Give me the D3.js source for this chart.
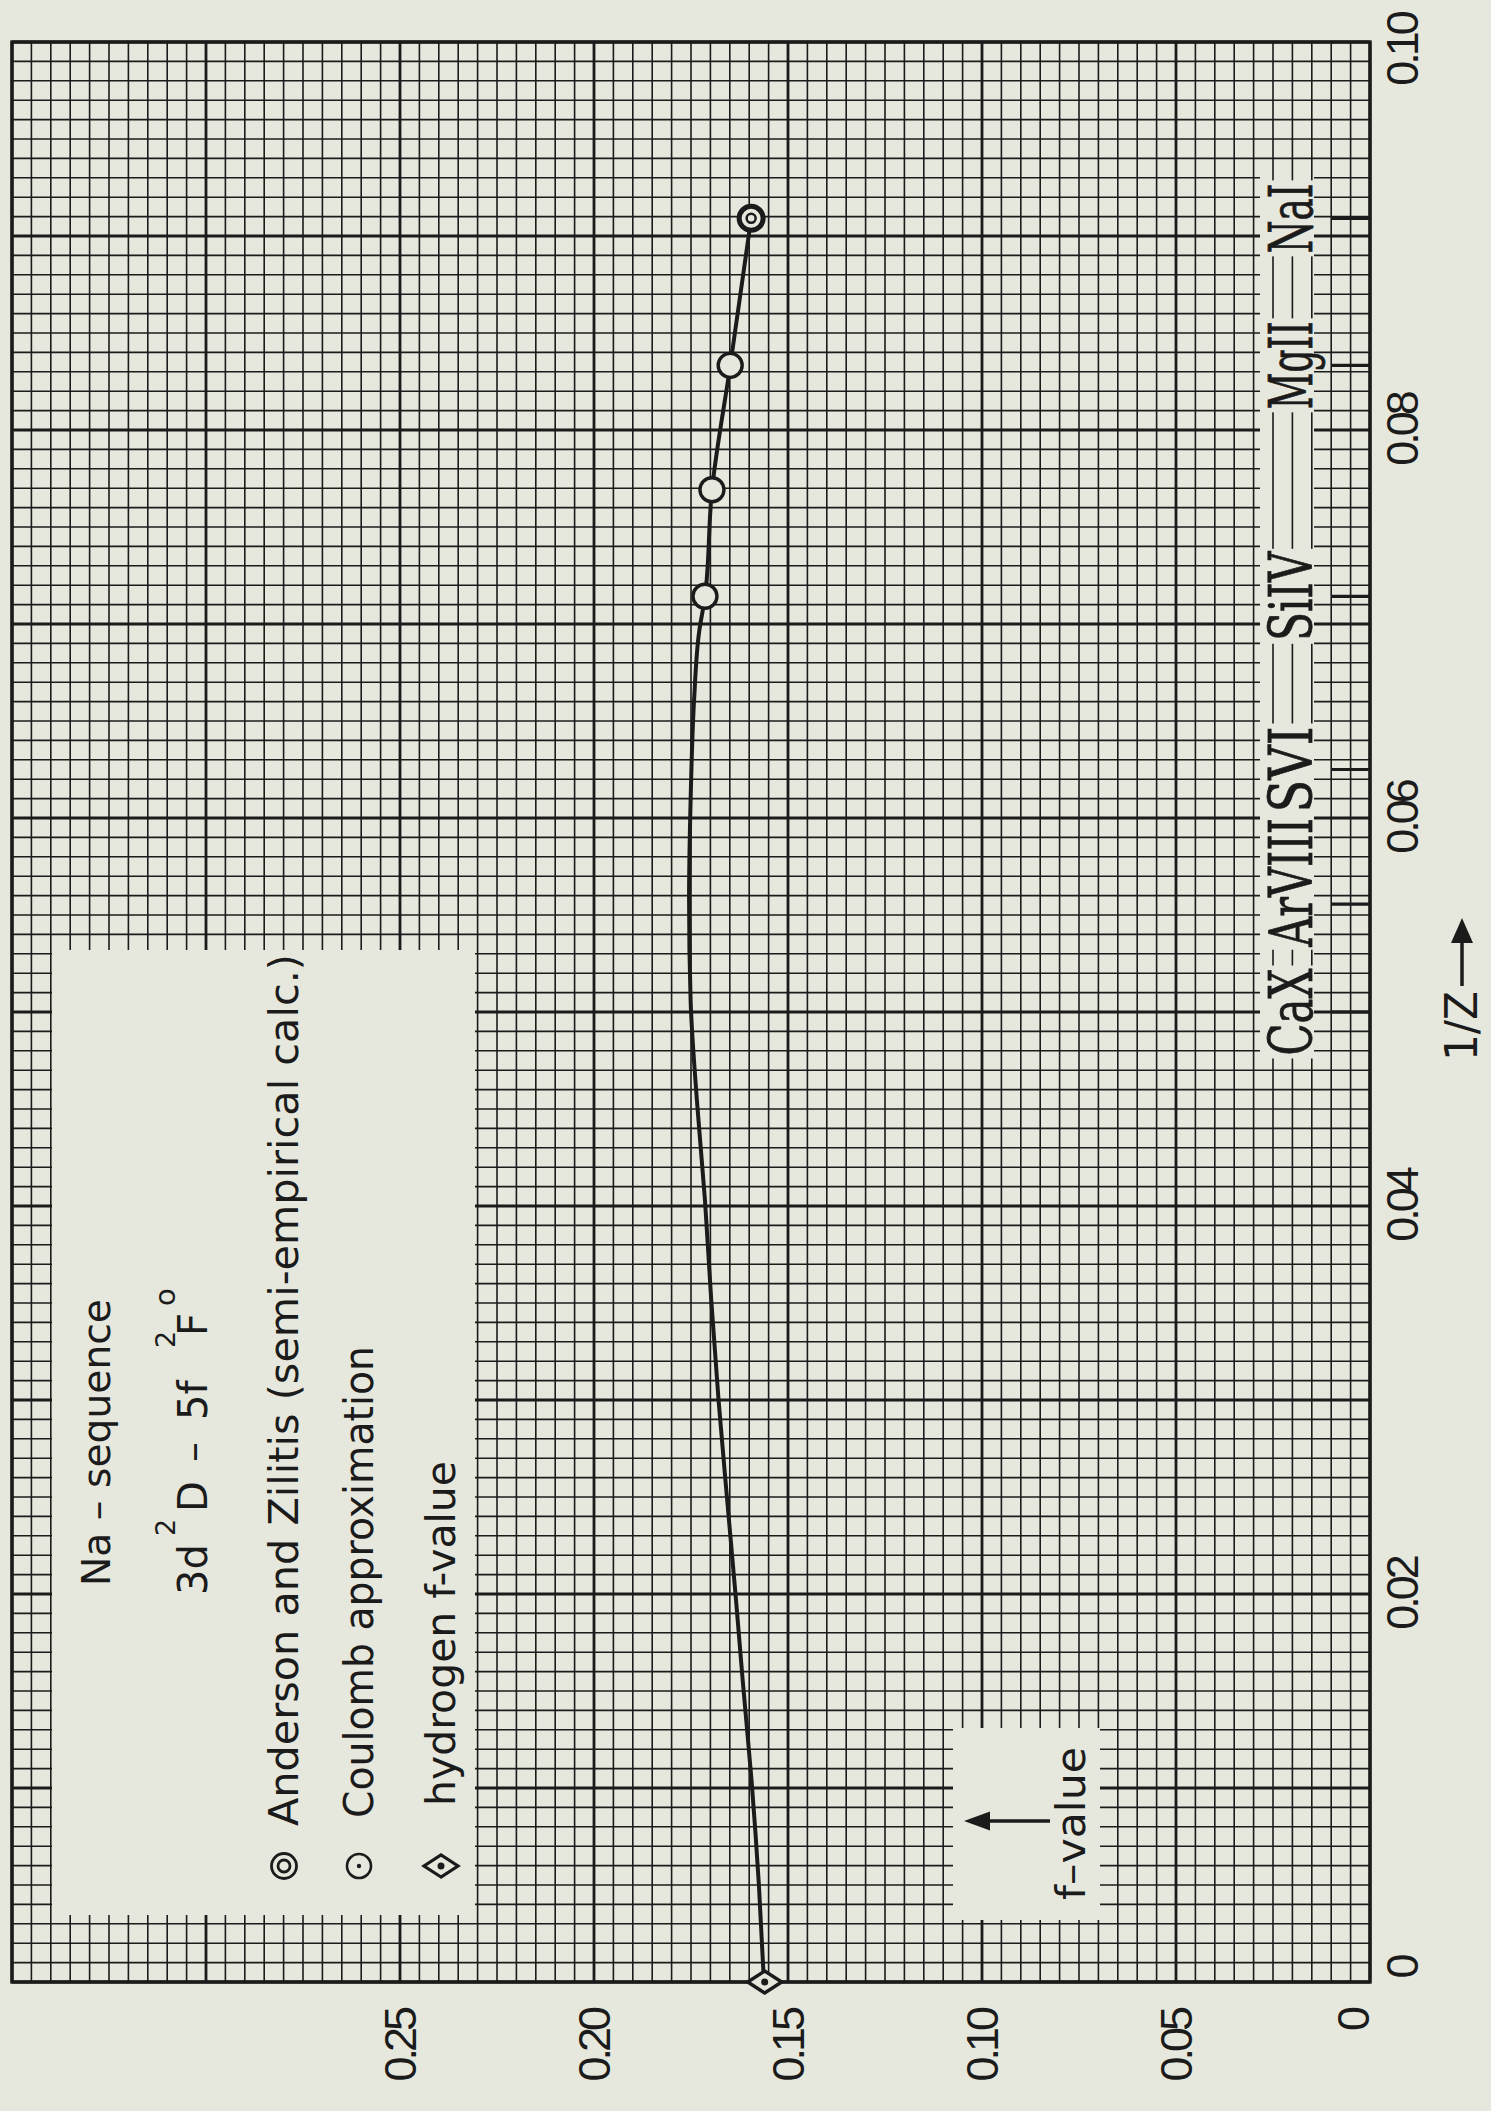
<!DOCTYPE html>
<html>
<head>
<meta charset="utf-8">
<script src="https://cdn.jsdelivr.net/npm/d3@7"></script>
<style>
  html, body { margin: 0; padding: 0; background: #e7e8dd; }
  svg { display: block; }
</style>
</head>
<body>
<div id="chart"></div>
<script>
// ---- data ----
// smooth curve drawn through the points (1/Z, f)
const curveInvZ = [0, 0.0050, 0.0104, 0.0156, 0.0197, 0.0249, 0.0300, 0.0352, 0.0403, 0.0455, 0.0506, 0.0558, 0.0609, 0.0661, 0.0696, 0.0714, 0.0769, 0.0833, 0.0909];
const curveF    = [0.1562, 0.1575, 0.1594, 0.1617, 0.1634, 0.1657, 0.1679, 0.1698, 0.1714, 0.1735, 0.1751, 0.1755, 0.1751, 0.1742, 0.1729, 0.1714, 0.1696, 0.1649, 0.1595];

// Coulomb approximation (SiIV, AlIII, MgII)
const coulombInvZ = [1 / 14, 1 / 13, 1 / 12];
const coulombF    = [0.1714, 0.1696, 0.1649];

// Anderson and Zilitis (NaI)
const andersonInvZ = [1 / 11];
const andersonF    = [0.1595];

// hydrogen f-value
const hydrogenInvZ = [0];
const hydrogenF    = [0.156];

// ions marked along the 1/Z axis
const ionNames = ['CaX', 'ArVIII', 'SVI', 'SiIV', 'MgII', 'NaI'];
const ionZ     = [20, 18, 16, 14, 12, 11];

// ticks
const invZTicks      = [0, 0.02, 0.04, 0.06, 0.08, 0.10];
const invZTickLabels = ['0', '0.02', '0.04', '0.06', '0.08', '0.10'];
const fTicks         = [0, 0.05, 0.10, 0.15, 0.20, 0.25];
const fTickLabels    = ['0', '0.05', '0.10', '0.15', '0.20', '0.25'];

// ---- drawing ----
const bg = '#e7e8dd';
const ink = '#1b1b1b';
const letterFont = '"DejaVu Sans", "Liberation Sans", sans-serif';
const tickFont = '"Liberation Sans", Arial, sans-serif';
const typeFont = '"DejaVu Serif", "Liberation Serif", serif';

const W = 1940; // 1/Z extent (drawn upright, then turned)
const H = 1358; // f extent

const svg = d3.select('#chart').append('svg')
  .attr('width', 1491)
  .attr('height', 2111);

svg.append('rect').attr('width', 1491).attr('height', 2111).attr('fill', bg);

// the whole figure is turned a quarter to the left
const g = svg.append('g').attr('transform', 'translate(12,1982) rotate(-90)');

const x = d3.scaleLinear().domain([0, 0.10]).range([0, W]);
const y = d3.scaleLinear().domain([0, 0.35]).range([H, 0]);

// graph paper
function gridLines(sel, vertical, horizontal) {
  if (vertical) {
    sel.selectAll('line.gv').data(d3.range(101)).join('line')
      .attr('class', 'gv')
      .attr('x1', i => x(i / 1000)).attr('x2', i => x(i / 1000))
      .attr('y1', 0).attr('y2', H)
      .attr('stroke', ink)
      .attr('stroke-width', i => i % 10 === 0 ? 2.8 : 1.6);
  }
  if (horizontal) {
    sel.selectAll('line.gh').data(d3.range(71)).join('line')
      .attr('class', 'gh')
      .attr('x1', 0).attr('x2', W)
      .attr('y1', j => y(j * 0.005)).attr('y2', j => y(j * 0.005))
      .attr('stroke', ink)
      .attr('stroke-width', j => j % 10 === 0 ? 2.8 : 1.6);
  }
}
gridLines(g.append('g'), true, true);

g.append('rect')
  .attr('width', W).attr('height', H)
  .attr('fill', 'none').attr('stroke', ink).attr('stroke-width', 3.4);

// blank patches pasted over the paper
g.append('rect').attr('x', 67).attr('y', 40).attr('width', 965).attr('height', 423).attr('fill', bg);
g.append('rect').attr('x', 62).attr('y', 941).attr('width', 192).attr('height', 147).attr('fill', bg);

// strip for the ion names: keeps only the lines running along it
const strip = { x: 925, y: 1248, w: 880, h: 54 };
g.append('rect').attr('x', strip.x).attr('y', strip.y).attr('width', strip.w).attr('height', strip.h).attr('fill', bg);
svg.append('defs').append('clipPath').attr('id', 'stripClip')
  .append('rect').attr('x', strip.x).attr('y', strip.y).attr('width', strip.w).attr('height', strip.h);
gridLines(g.append('g').attr('clip-path', 'url(#stripClip)'), false, true);

// ion labels
const labelLen = { CaX: 87, ArVIII: 129, SVI: 86, SiIV: 89, MgII: 88, NaI: 70 };
const labelNudge = { ArVIII: 22 };
const ions = ionNames.map((n, i) => ({ name: n, invZ: 1 / ionZ[i] }));

g.append('g').selectAll('rect').data(ions).join('rect')
  .attr('x', d => x(d.invZ) + (labelNudge[d.name] || 0) - labelLen[d.name] / 2 - 3)
  .attr('y', strip.y)
  .attr('width', d => labelLen[d.name] + 6)
  .attr('height', strip.h)
  .attr('fill', bg);

g.append('g').selectAll('text').data(ions).join('text')
  .attr('x', d => x(d.invZ) + (labelNudge[d.name] || 0))
  .attr('y', 1300)
  .attr('text-anchor', 'middle')
  .attr('font-family', typeFont)
  .attr('font-size', 60)
  .attr('fill', ink)
  .attr('stroke', ink)
  .attr('stroke-width', 0.8)
  .attr('textLength', d => labelLen[d.name])
  .attr('lengthAdjust', 'spacingAndGlyphs')
  .text(d => d.name);

// ion ticks on the 1/Z axis
g.append('g').selectAll('line').data(ions).join('line')
  .attr('x1', d => x(d.invZ)).attr('x2', d => x(d.invZ))
  .attr('y1', H - 39).attr('y2', H)
  .attr('stroke', ink).attr('stroke-width', 3.2);

// curve
const curvePts = curveInvZ.map((v, i) => [v, curveF[i]]);
g.append('path')
  .datum(curvePts)
  .attr('fill', 'none')
  .attr('stroke', ink)
  .attr('stroke-width', 4)
  .attr('d', d3.line().x(d => x(d[0])).y(d => y(d[1])).curve(d3.curveMonotoneX));

// Coulomb points
g.append('g').selectAll('circle').data(coulombInvZ.map((v, i) => [v, coulombF[i]])).join('circle')
  .attr('cx', d => x(d[0])).attr('cy', d => y(d[1]))
  .attr('r', 12)
  .attr('fill', bg).attr('stroke', ink).attr('stroke-width', 3.4);

// Anderson point
const andG = g.append('g').selectAll('g').data(andersonInvZ.map((v, i) => [v, andersonF[i]])).join('g')
  .attr('transform', d => `translate(${x(d[0])},${y(d[1])})`);
andG.append('circle').attr('r', 12).attr('fill', bg).attr('stroke', ink).attr('stroke-width', 5);
andG.append('circle').attr('r', 4.5).attr('fill', 'none').attr('stroke', ink).attr('stroke-width', 2.5);

// hydrogen diamond
const diamond = 'M-11,0 L0,-17 L11,0 L0,17 Z';
const hydG = g.append('g').selectAll('g').data(hydrogenInvZ.map((v, i) => [v, hydrogenF[i]])).join('g')
  .attr('transform', d => `translate(${x(d[0])},${y(d[1])})`);
hydG.append('path').attr('d', diamond).attr('fill', bg).attr('stroke', ink).attr('stroke-width', 3.5);
hydG.append('circle').attr('r', 3.5).attr('fill', ink);

// tick labels
g.append('g').selectAll('text').data(invZTicks).join('text')
  .attr('x', d => x(d) + (d === 0 ? 14 : 0) - (d === 0.10 ? 8 : 0))
  .attr('y', H + 48)
  .attr('text-anchor', 'middle')
  .attr('font-family', tickFont)
  .attr('font-size', 45)
  .attr('letter-spacing', -4)
  .attr('fill', ink)
  .text((d, i) => invZTickLabels[i]);

g.append('g').selectAll('text').data(fTicks).join('text')
  .attr('x', -28)
  .attr('y', d => y(d) + (d === 0 ? -17 : 0))
  .attr('dy', '0.36em')
  .attr('text-anchor', 'end')
  .attr('font-family', tickFont)
  .attr('font-size', 45)
  .attr('letter-spacing', -4)
  .attr('fill', ink)
  .text((d, i) => fTickLabels[i]);

// axis titles with arrows
function arrow(sel, x1, y1, x2, y2, head, half) {
  const a = Math.atan2(y2 - y1, x2 - x1);
  const bx = x2 - head * Math.cos(a), by = y2 - head * Math.sin(a);
  sel.append('line').attr('x1', x1).attr('y1', y1).attr('x2', bx).attr('y2', by)
    .attr('stroke', ink).attr('stroke-width', 3.5);
  sel.append('path')
    .attr('d', `M${x2},${y2} L${bx - half * Math.sin(a)},${by + half * Math.cos(a)} L${bx + half * Math.sin(a)},${by - half * Math.cos(a)} Z`)
    .attr('fill', ink);
}

g.append('text')
  .attr('x', 921).attr('y', 1465)
  .attr('font-family', letterFont).attr('font-size', 44).attr('fill', ink)
  .attr('textLength', 70).attr('lengthAdjust', 'spacingAndGlyphs')
  .text('1/Z');
arrow(g, 996, 1450, 1064, 1450, 25, 11);

arrow(g, 161, 1038, 161, 952, 26, 9.5);
g.append('text')
  .attr('x', 82).attr('y', 1073)
  .attr('font-family', letterFont).attr('font-size', 40).attr('fill', ink)
  .attr('textLength', 153).attr('lengthAdjust', 'spacingAndGlyphs')
  .text('f\u2013value');

// legend / caption block
const cap = g.append('g').attr('font-family', letterFont).attr('fill', ink);

cap.append('text').attr('x', 396).attr('y', 98).attr('font-size', 39)
  .attr('textLength', 287).attr('lengthAdjust', 'spacingAndGlyphs')
  .text('Na \u2013 sequence');

const line2 = [
  { t: '3d', x: 387, y: 195, s: 40 },
  { t: '2', x: 446, y: 163, s: 27 },
  { t: 'D', x: 470, y: 195, s: 40 },
  { t: '\u2013', x: 520, y: 195, s: 40 },
  { t: '5f', x: 562, y: 195, s: 40 },
  { t: '2', x: 634, y: 163, s: 27 },
  { t: 'F', x: 646, y: 195, s: 40 },
  { t: 'o', x: 676, y: 163, s: 29 }
];
cap.selectAll('text.l2').data(line2).join('text')
  .attr('class', 'l2')
  .attr('x', d => d.x).attr('y', d => d.y).attr('font-size', d => d.s)
  .text(d => d.t);

const legendRows = [
  { t: 'Anderson and Zilitis (semi-empirical calc.)', x: 156, y: 286, len: 872, sym: 'double' },
  { t: 'Coulomb approximation', x: 164, y: 361, len: 472, sym: 'dot' },
  { t: 'hydrogen f-value', x: 176, y: 443, len: 345, sym: 'diamond' }
];
cap.selectAll('text.lg').data(legendRows).join('text')
  .attr('class', 'lg')
  .attr('x', d => d.x).attr('y', d => d.y).attr('font-size', 41)
  .attr('textLength', d => d.len).attr('lengthAdjust', 'spacingAndGlyphs')
  .text(d => d.t);

legendRows.forEach(d => {
  const s = g.append('g').attr('transform', `translate(116,${d.y - 14})`);
  if (d.sym === 'double') {
    s.append('circle').attr('r', 12.5).attr('fill', 'none').attr('stroke', ink).attr('stroke-width', 2.8);
    s.append('circle').attr('r', 6).attr('fill', 'none').attr('stroke', ink).attr('stroke-width', 2.8);
  } else if (d.sym === 'dot') {
    s.append('circle').attr('r', 12).attr('fill', 'none').attr('stroke', ink).attr('stroke-width', 2.6);
    s.append('circle').attr('r', 2.2).attr('fill', ink);
  } else {
    s.append('path').attr('d', diamond).attr('fill', 'none').attr('stroke', ink).attr('stroke-width', 3.2);
    s.append('circle').attr('r', 3.5).attr('fill', ink);
  }
});
</script>
</body>
</html>
